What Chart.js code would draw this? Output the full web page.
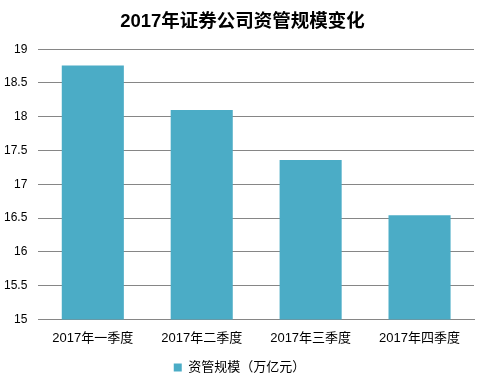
<!DOCTYPE html>
<html><head><meta charset="utf-8">
<script src="https://cdn.jsdelivr.net/npm/chart.js@4"></script>
<style>html,body{margin:0;padding:0;background:#fff}#w{width:485px;height:380px}</style>
</head><body><div id="w"><canvas id="c"></canvas></div>
<script>
const categories = ["2017年一季度","2017年二季度","2017年三季度","2017年四季度"];
const values = [18.76, 18.10, 17.36, 16.54];
const seriesName = "资管规模（万亿元）";
const chartTitle = "2017年证券公司资管规模变化";
const FONT = '"Liberation Sans","Noto Sans CJK SC",sans-serif';
const centerBlocks = {
  id: 'centerBlocks',
  afterLayout(chart) {
    const t = chart.titleBlock;
    if (t) { t.left = 0; t.right = chart.width; t.width = chart.width; }
    const l = chart.legend;
    if (l) { l.left = 0; l.right = chart.width - 6; l.width = l.right; }
  }
};
new Chart(document.getElementById('c'), {
  type: 'bar',
  data: { labels: categories, datasets: [{ label: seriesName, data: values, backgroundColor: '#4BACC6', categoryPercentage: 0.57, barPercentage: 1 }] },
  options: {
    responsive: true, maintainAspectRatio: false, animation: false,
    layout: { padding: { left: -7, right: 11, top: 11, bottom: -4 } },
    plugins: {
      title: { display: true, text: chartTitle, color: '#000', font: { family: FONT, size: 18.5, weight: 'bold' }, padding: { top: 0, bottom: 16 } },
      legend: { position: 'bottom', labels: { color: '#000', boxWidth: 8, boxHeight: 8, font: { family: FONT, size: 13 }, padding: 1 } },
      tooltip: { enabled: false }
    },
    scales: {
      y: { min: 15, max: 19, ticks: { stepSize: 0.5, color: '#000', font: { family: FONT, size: 12 }, padding: 11, callback: v => String(v) },
           grid: { color: '#868686', drawTicks: false }, border: { display: false } },
      x: { ticks: { color: '#000', font: { family: FONT, size: 13 }, padding: 3 }, grid: { display: false }, border: { color: '#868686' },
           afterFit: s => { s.height += 11; } }
    }
  },
  plugins: [centerBlocks]
});
</script></body></html>
